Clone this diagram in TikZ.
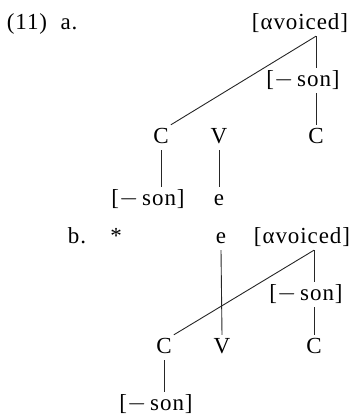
\documentclass[tikz,border=0pt]{standalone}
\usepackage{fontspec}
\setmainfont{Liberation Serif}[LetterSpace=4]
\begin{document}
\begin{tikzpicture}[x=1pt,y=-1pt,
  lab/.style={anchor=base,font=\fontsize{23}{26}\selectfont,inner sep=2pt,text height=16pt,text depth=5pt},
  ln/.style={line width=0.9pt,black!85}]
\useasboundingbox (0,0) rectangle (354,415);
\newcommand{\mson}{[$-$\,son]}
% part a
\node[lab] (na1) at (27,29) {(11)};
\node[lab] (na2) at (69,29) {a.};
\node[lab] (avA) at (300,29) {[αvoiced]};
\node[lab] (sonA) at (303,86) {\mson};
\node[lab] (CA2) at (316,143) {C};
\node[lab] (CA1) at (161,143) {C};
\node[lab] (VA) at (219,143) {V};
\node[lab] (sonLA) at (148,205) {\mson};
\node[lab] (eA) at (219,205) {e};
\coordinate (brA) at (CA2 |- avA.south);
\draw[ln] (brA) -- (CA2 |- sonA.north);
\draw[ln] (CA2 |- sonA.south) -- (CA2.north);
\draw[ln] (brA) -- (CA1.north east);
\draw[ln] (CA1.south) -- (CA1 |- sonLA.north);
\draw[ln] (VA.south) -- (eA.north);
% part b
\node[lab] (nb) at (77,243) {b.};
\node[lab] (star) at (116,243) {*};
\node[lab] (eB) at (221,243) {e};
\node[lab] (avB) at (302,243) {[αvoiced]};
\node[lab] (sonB) at (306,300) {\mson};
\node[lab] (CB2) at (314,353) {C};
\node[lab] (VB) at (222,353) {V};
\node[lab] (CB1) at (164,353) {C};
\node[lab] (sonLB) at (156,410) {\mson};
\coordinate (brB) at (CB2 |- avB.south);
\draw[ln] (brB) -- (CB2 |- sonB.north);
\draw[ln] (CB2 |- sonB.south) -- (CB2.north);
\draw[ln] (brB) -- (CB1.north east);
\draw[ln] (eB.south) -- (VB.north);
\draw[ln] (CB1.south) -- (CB1 |- sonLB.north);
\end{tikzpicture}
\end{document}
